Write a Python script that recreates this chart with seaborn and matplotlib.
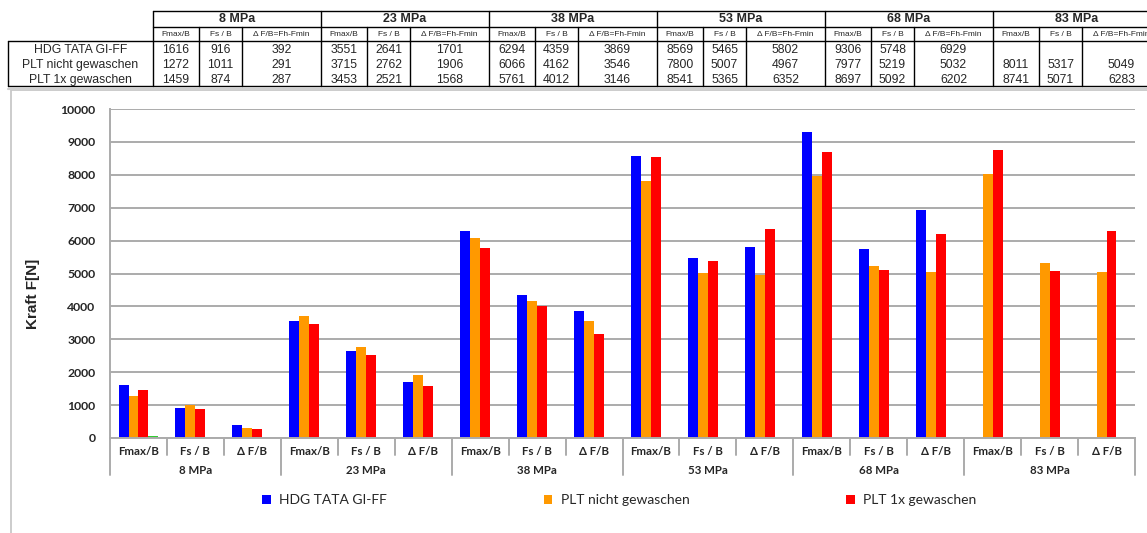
import numpy as np
import pandas as pd
import matplotlib
matplotlib.use("Agg")
import matplotlib.pyplot as plt
import seaborn as sns
from matplotlib.patches import Patch, Rectangle
from matplotlib.transforms import blended_transform_factory

# ---- data -------------------------------------------------------------
pressures = ["8 MPa", "23 MPa", "38 MPa", "53 MPa", "68 MPa", "83 MPa"]
measures = ["Fmax/B", "Fs / B", "Δ F/B"]
table_heads = ["Fmax/B", "Fs / B", "Δ F/B=Fh-Fmin"]
series = ["HDG TATA GI-FF", "PLT nicht gewaschen", "PLT 1x gewaschen"]

hdg = [1616, 916, 392, 3551, 2641, 1701, 6294, 4359, 3869,
       8569, 5465, 5802, 9306, 5748, 6929, np.nan, np.nan, np.nan]
plt_nicht = [1272, 1011, 291, 3715, 2762, 1906, 6066, 4162, 3546,
             7800, 5007, 4967, 7977, 5219, 5032, 8011, 5317, 5049]
plt_1x = [1459, 874, 287, 3453, 2521, 1568, 5761, 4012, 3146,
          8541, 5365, 6352, 8697, 5092, 6202, 8741, 5071, 6283]
# small fourth series (only one value present)
extra_name = "Reihe 4"
extra = [50, np.nan, np.nan, np.nan, np.nan, np.nan, np.nan, np.nan, np.nan,
         np.nan, np.nan, np.nan, np.nan, np.nan, np.nan, np.nan, np.nan, np.nan]

colors = ["#0000FF", "#FF9900", "#FF0000", "#33CC33"]

# ---- long table for seaborn -------------------------------------------
cats = [f"{p}|{m}" for p in pressures for m in measures]
rows = []
for name, vals in zip(series + [extra_name], [hdg, plt_nicht, plt_1x, extra]):
    for c, v in zip(cats, vals):
        if not np.isnan(v):
            rows.append({"cat": c, "series": name, "value": v})
df = pd.DataFrame(rows)

sns.set_style("white")
W, H = 1147, 533
fig = plt.figure(figsize=(W / 100, H / 100), dpi=100)

# background layer in pixel coordinates: chart frame + data table
bg = fig.add_axes([0, 0, 1, 1], zorder=0)
bg.set_xlim(0, W)
bg.set_ylim(H, 0)
bg.axis("off")

bg.add_patch(Rectangle((11, 90), 1160, 470, fill=False,
                       edgecolor="#C8C8C8", lw=1.3))

tfont = "Liberation Sans"
lc = "black"
x_lab0, x_lab1 = 8, 153
group_w = 168
sub_off = [0, 46, 89, group_w]
group_x = [x_lab1 + i * group_w for i in range(len(pressures))]
y_top, y_sub, y_data, y_bot = 11, 27, 41, 86
row_y = [50, 65, 80]
x_end = 1170

for y in (y_top, y_sub):
    bg.plot([x_lab1, x_end], [y, y], color=lc, lw=1)
for y in (y_data, y_bot):
    bg.plot([x_lab0, x_end], [y, y], color=lc, lw=1)
bg.plot([x_lab0, x_end], [y_bot + 2.5, y_bot + 2.5], color="#D0D0D0", lw=1.5)
bg.plot([x_lab0, x_lab0], [y_data, y_bot], color=lc, lw=1)
for gx in group_x:
    bg.plot([gx, gx], [y_top, y_bot], color=lc, lw=1)
    for off in sub_off[1:3]:
        bg.plot([gx + off, gx + off], [y_sub, y_bot], color=lc, lw=1)

for gi, (p, gx) in enumerate(zip(pressures, group_x)):
    bg.text(gx + group_w / 2, (y_top + y_sub) / 2 + 0.5, p, ha="center",
            va="center", fontsize=9, fontweight="bold", family=tfont)
    for k, head in enumerate(table_heads):
        cx = gx + (sub_off[k] + sub_off[k + 1]) / 2
        bg.text(cx, (y_sub + y_data) / 2 + 0.5, head, ha="center",
                va="center", fontsize=6, family=tfont)
        for r, vals in enumerate([hdg, plt_nicht, plt_1x]):
            v = vals[gi * 3 + k]
            if not np.isnan(v):
                bg.text(cx, row_y[r], f"{v:.0f}", ha="center", va="center",
                        fontsize=8.8, family=tfont)
for r, name in enumerate(series):
    bg.text((x_lab0 + x_lab1) / 2, row_y[r], name, ha="center", va="center",
            fontsize=8.8, family=tfont)

# ---- bar chart --------------------------------------------------------
ax_l, ax_r, ax_t, ax_b = 110, 1135, 109, 438
ax = fig.add_axes([ax_l / W, 1 - ax_b / H, (ax_r - ax_l) / W, (ax_b - ax_t) / H],
                  zorder=1)
ax.patch.set_alpha(0)

sns.barplot(data=df, x="cat", y="value", hue="series", order=cats,
            hue_order=series + [extra_name], palette=colors, width=0.7,
            saturation=1, errorbar=None, linewidth=0, legend=False, ax=ax)

cfont = "Lato"
grid_c = "#ABABAB"
ax.set_xlim(-0.5, len(cats) - 0.5)
ax.set_ylim(0, 10000)
ax.set_yticks(np.arange(0, 10001, 1000))
ax.yaxis.grid(True, color=grid_c, lw=1.4)
ax.set_axisbelow(True)
for s in ("top", "right"):
    ax.spines[s].set_visible(False)
for s in ("left", "bottom"):
    ax.spines[s].set_color(grid_c)
    ax.spines[s].set_linewidth(1.4)
ax.tick_params(axis="y", length=5, width=1.4, color=grid_c, pad=5.5)
for lab in ax.get_yticklabels():
    lab.set_fontsize(8.8)
    lab.set_fontweight("bold")
    lab.set_family(cfont)

ax.set_xticks(range(len(cats)))
ax.set_xticklabels(measures * len(pressures), fontsize=8.3, fontweight="bold",
                   family=cfont)
ax.tick_params(axis="x", length=0, pad=6)
ax.set_xlabel("")
ax.set_ylabel("Kraft F[N]", fontsize=11, fontweight="bold", family=tfont)
ax.yaxis.set_label_coords(-0.068, 0.438)

trans = blended_transform_factory(ax.transData, ax.transAxes)
ax_h = ax_b - ax_t
for i in range(len(cats) + 1):
    depth = (475 - ax_b) / ax_h if i % 3 == 0 else (455 - ax_b) / ax_h
    ax.plot([i - 0.5, i - 0.5], [0, -depth], transform=trans, color=grid_c,
            lw=1.4, clip_on=False)
for gi, p in enumerate(pressures):
    ax.text(gi * 3 + 1, -(470 - ax_b) / ax_h, p, transform=trans,
            ha="center", va="center", fontsize=8.3, fontweight="bold",
            family=cfont)

handles = [Patch(facecolor=c, edgecolor="none", label=s)
           for c, s in zip(colors[:3], series)]
fig.legend(handles=handles, loc="center", bbox_to_anchor=(0.540, 1 - 500 / H),
           ncol=3, frameon=False, handlelength=0.6, handleheight=0.6,
           handletextpad=0.6, columnspacing=11.3,
           prop={"family": cfont, "size": 10})

fig.savefig("out.png", dpi=100)
